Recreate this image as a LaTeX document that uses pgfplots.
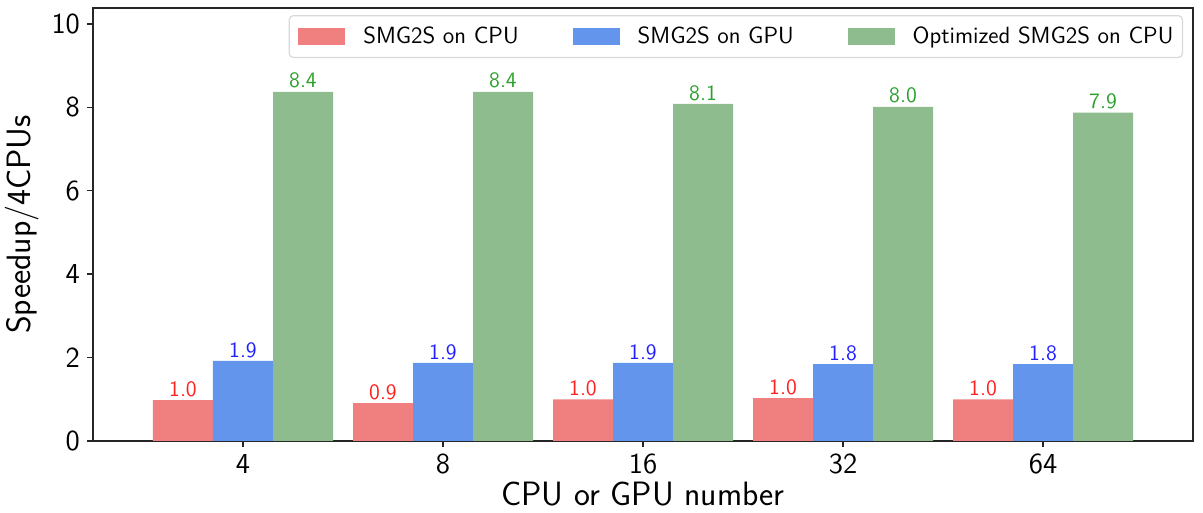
\documentclass[border=0pt]{standalone}
\usepackage{pgfplots}
\pgfplotsset{compat=1.18}
\definecolor{cred}{HTML}{F08080}
\definecolor{cblue}{HTML}{6495ED}
\definecolor{cgreen}{HTML}{8FBC8F}
\definecolor{tred}{HTML}{FF2020}
\definecolor{tblue}{HTML}{2020FF}
\definecolor{tgreen}{HTML}{2CA02C}
\begin{document}
\begin{tikzpicture}
\useasboundingbox (-46.5pt,-36pt) rectangle (555pt,220.5pt);
\begin{axis}[
  anchor=south west, at={(0pt,0pt)},
  scale only axis, width=550pt, height=216.5pt,
  xmin=-0.75, xmax=4.75, ymin=0, ymax=10.38,
  xtick={0,1,2,3,4}, xticklabels={4,8,16,32,64},
  ytick={0,2,4,6,8,10},
  tick align=outside, major tick length=3pt,
  xtick pos=bottom, ytick pos=left,
  axis line style={line width=0.8pt, black!85},
  tick style={line width=0.7pt, black!85},
  /pgf/number format/assume math mode=true,
  ticklabel style={font=\sffamily\fontsize{14.5}{17}\selectfont},
  xlabel={CPU or GPU number}, ylabel={Speedup/4CPUs},
  label style={font=\sffamily\fontsize{16.9}{20}\selectfont},
  xlabel style={at={(axis description cs:0.5,-0.123)}, anchor=center},
  ylabel style={at={(axis description cs:-0.0645,0.5)}, anchor=center},
  ybar, bar width=0.3,
  nodes near coords,
  nodes near coords style={font=\sffamily\fontsize{11}{13}\selectfont, /pgf/number format/fixed, /pgf/number format/precision=1, /pgf/number format/fixed zerofill, /pgf/number format/assume math mode=true, inner sep=1.5pt},
  legend columns=3,
  legend style={at={(axis cs:4.70,10.21)}, anchor=north east, draw=black!15, rounded corners=2pt, line width=0.6pt,
    font=\sffamily\fontsize{11.7}{14}\selectfont, inner xsep=4.5pt, inner ysep=3.5pt,
    nodes={inner xsep=0pt},
    /tikz/every odd column/.append style={column sep=9pt},
    /tikz/every even column/.append style={column sep=27pt}},
  legend image code/.code={\fill[#1,draw=none,sharp corners] (0pt,-4.25pt) rectangle (23.5pt,4.25pt);},
]
\addplot[fill=cred, draw=none, bar shift=-0.3, every node near coord/.append style={text=tred}] coordinates {(0,0.98) (1,0.91) (2,1.0) (3,1.03) (4,1.0)};
\addplot[fill=cblue, draw=none, bar shift=0, every node near coord/.append style={text=tblue}] coordinates {(0,1.92) (1,1.87) (2,1.87) (3,1.84) (4,1.84)};
\addplot[fill=cgreen, draw=none, bar shift=0.3, every node near coord/.append style={text=tgreen}] coordinates {(0,8.37) (1,8.37) (2,8.08) (3,8.01) (4,7.87)};
\legend{SMG2S on CPU, SMG2S on GPU, Optimized SMG2S on CPU}
\end{axis}
\end{tikzpicture}
\end{document}
